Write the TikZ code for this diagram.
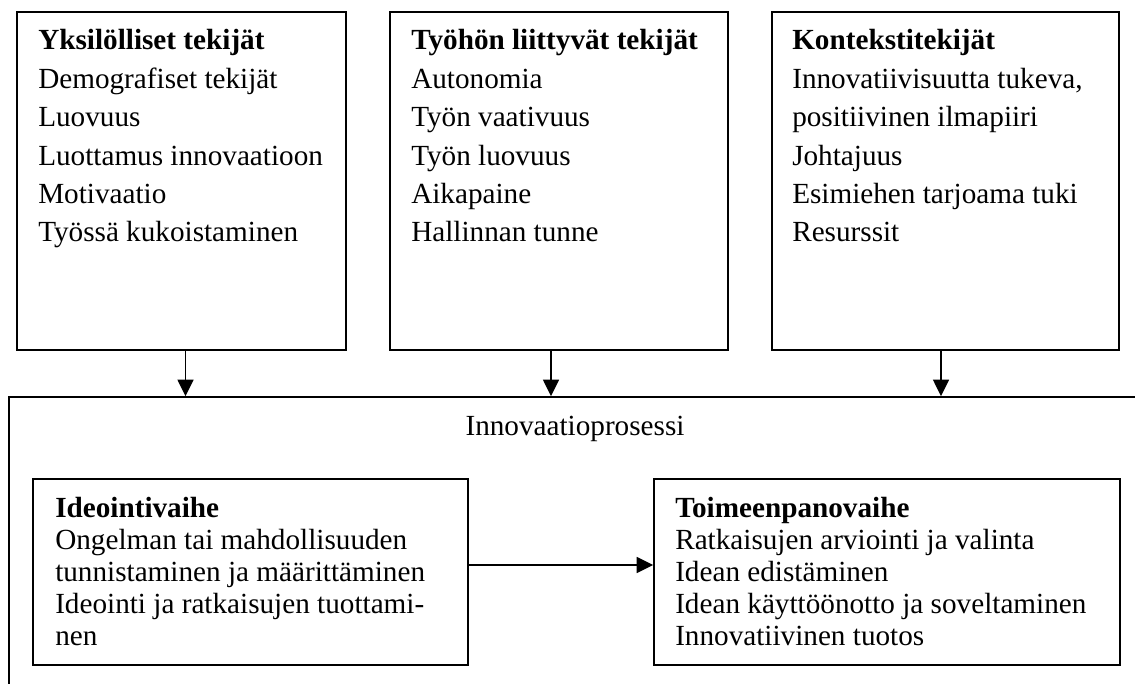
\documentclass[tikz,border=0pt]{standalone}
\usepackage{fontspec}
\setmainfont{Liberation Serif}
\usetikzlibrary{arrows.meta,fit}
\newcommand\tkTop{\fontsize{21.9}{28.8}\selectfont}
\newcommand\tkBot{\fontsize{21.9}{24}\selectfont}
\begin{document}
\begin{tikzpicture}[x=0.75pt,y=-0.75pt,
  box/.style={draw, line width=1.2pt, inner sep=0pt},
  arr/.style={-{Triangle[width=12pt,length=12.5pt]}, line width=1.3pt},
  txt/.style={anchor=base west, inner sep=0pt}]
\clip (0,0) rectangle (1135,684);
\fill[white] (0,0) rectangle (1135,684);
% top boxes
\node[box, fit={(17,12)(346,350)}] (b1) {};
\node[box, fit={(390,12)(728,350)}] (b2) {};
\node[box, fit={(772,12)(1119,350)}] (b3) {};
% outer process box
\node[box, fit={(9,397)(1150,700)}] (proc) {};
\node[anchor=base, inner sep=0pt] (ptitle) at (575,435) {\tkTop Innovaatioprosessi};
% phase boxes
\node[box, fit={(33,479)(468,665)}] (ide) {};
\node[box, fit={(654,479)(1120,665)}] (toi) {};
% texts
\node[txt] (t1) at (38,50) {\parbox[t]{400pt}{\raggedright\tkTop
  \textbf{Yksilölliset tekijät}\\
  Demografiset tekijät\\
  Luovuus\\
  Luottamus innovaatioon\\
  Motivaatio\\
  Työssä kukoistaminen}};
\node[txt] (t2) at (411,50) {\parbox[t]{400pt}{\raggedright\tkTop
  \textbf{Työhön liittyvät tekijät}\\
  Autonomia\\
  Työn vaativuus\\
  Työn luovuus\\
  Aikapaine\\
  Hallinnan tunne}};
\node[txt] (t3) at (792,50) {\parbox[t]{400pt}{\raggedright\tkTop
  \textbf{Kontekstitekijät}\\
  Innovatiivisuutta tukeva,\\
  positiivinen ilmapiiri\\
  Johtajuus\\
  Esimiehen tarjoama tuki\\
  Resurssit}};
\node[txt] (t4) at (55,517) {\parbox[t]{400pt}{\raggedright\tkBot
  \textbf{Ideointivaihe}\\
  Ongelman tai mahdollisuuden\\
  tunnistaminen ja määrittäminen\\
  Ideointi ja ratkaisujen tuottami-\\
  nen}};
\node[txt] (t5) at (675,517) {\parbox[t]{400pt}{\raggedright\tkBot
  \textbf{Toimeenpanovaihe}\\
  Ratkaisujen arviointi ja valinta\\
  Idean edistäminen\\
  Idean käyttöönotto ja soveltaminen\\
  Innovatiivinen tuotos}};
% connectors
\coordinate (c1) at (185.5,0);
\coordinate (c2) at (551,0);
\coordinate (c3) at (941,0);
\coordinate (cy) at (0,565);
\draw[arr] (b1.south -| c1) -- (proc.north -| c1);
\draw[arr] (b2.south -| c2) -- (proc.north -| c2);
\draw[arr] (b3.south -| c3) -- (proc.north -| c3);
\draw[arr] (ide.east |- cy) -- (toi.west |- cy);
\end{tikzpicture}
\end{document}
